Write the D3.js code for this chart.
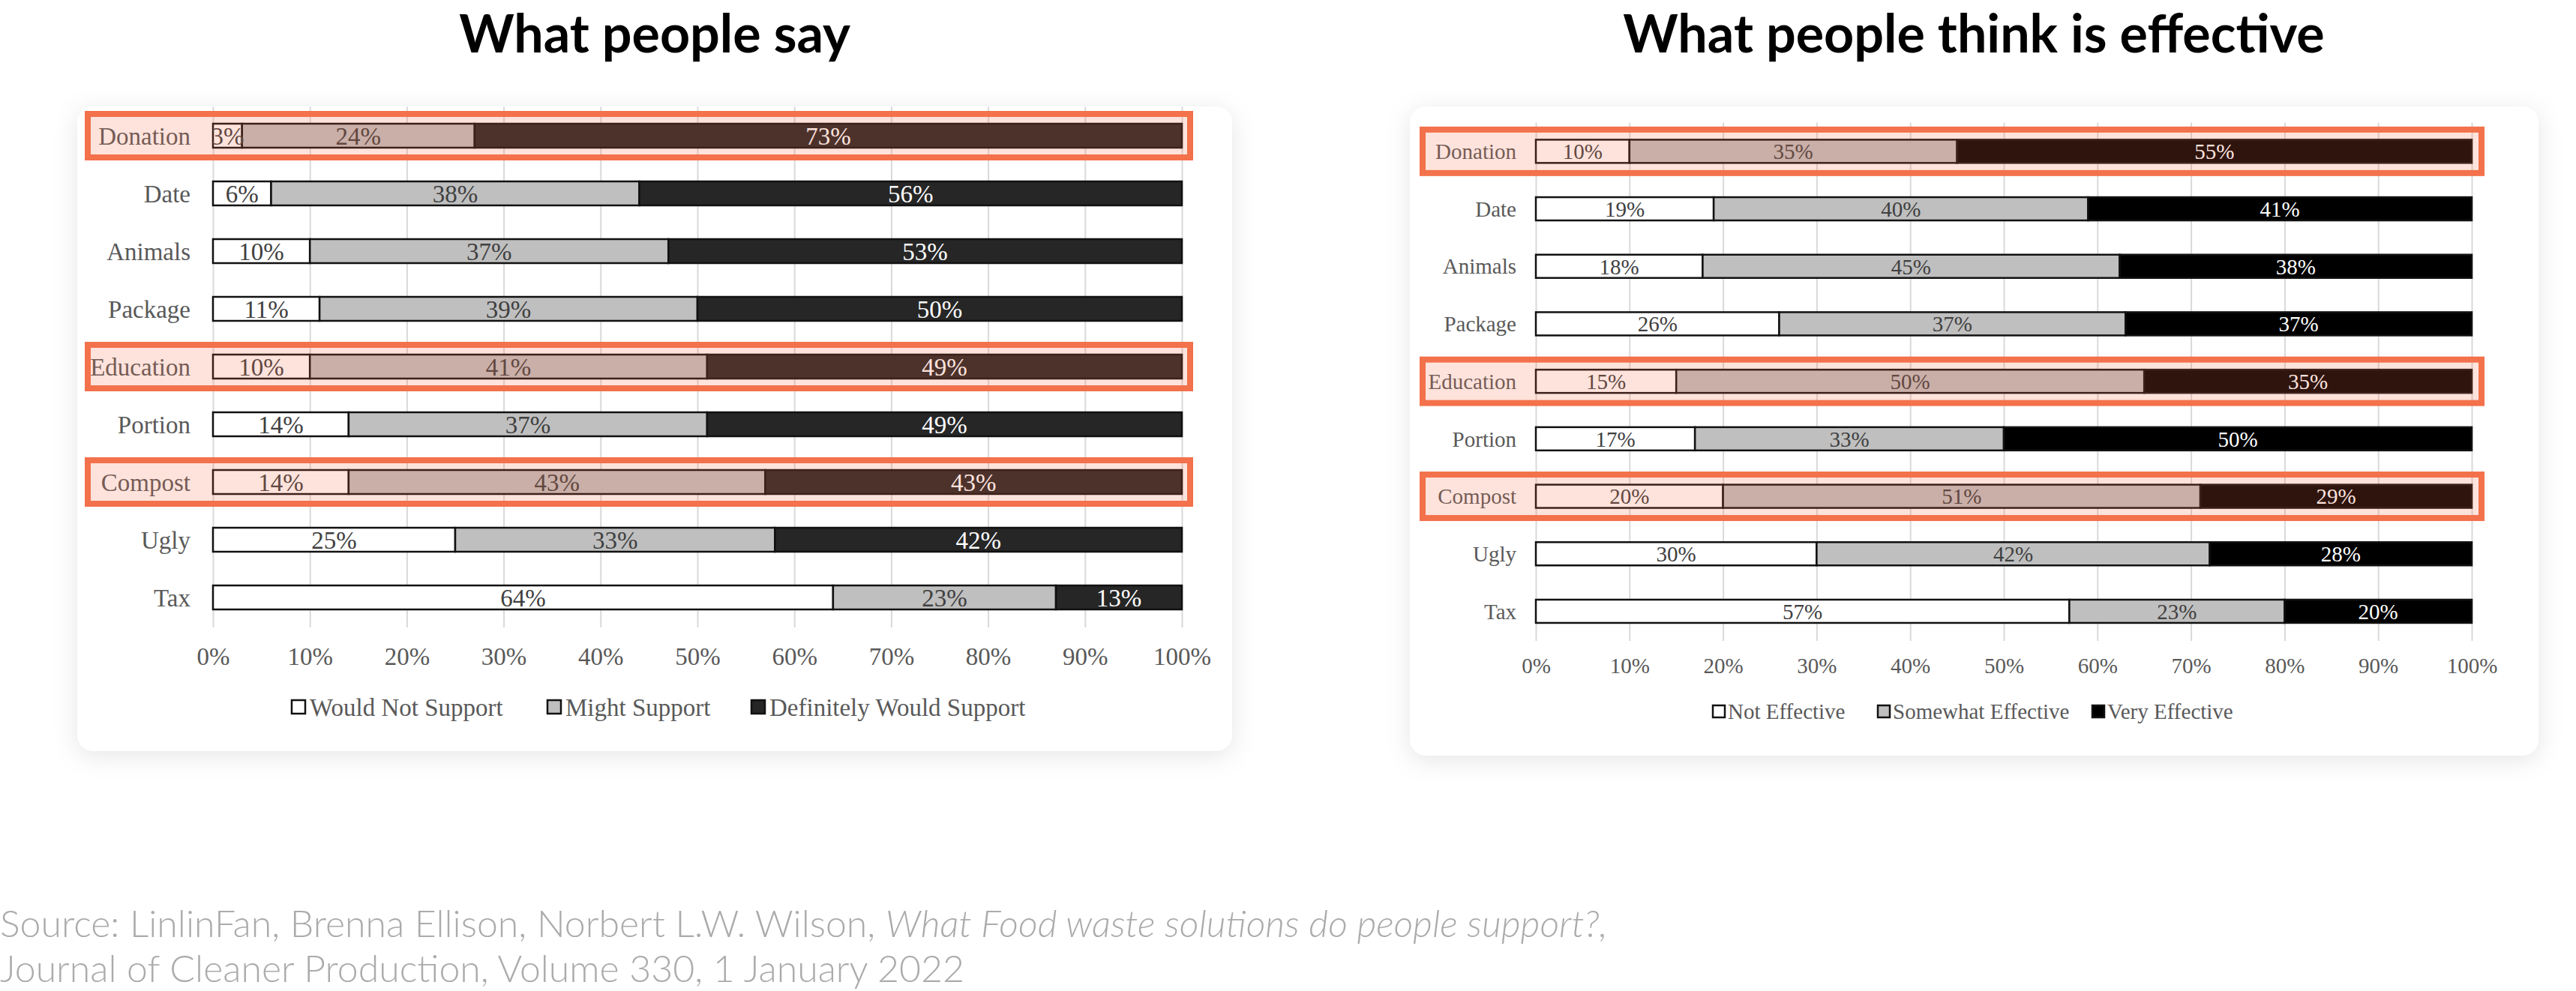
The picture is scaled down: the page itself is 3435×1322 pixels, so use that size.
<!DOCTYPE html>
<html>
<head>
<meta charset="utf-8">
<script src="https://cdn.jsdelivr.net/npm/d3@7"></script>
<style>
  html, body { margin: 0; padding: 0; background: #ffffff; }
  svg { display: block; }
</style>
</head>
<body>
<svg id="chart" width="3435" height="1322"></svg>
<script>
// ---------------- DATA ----------------
const categories = ["Donation", "Date", "Animals", "Package", "Education", "Portion", "Compost", "Ugly", "Tax"];
const highlighted = ["Donation", "Education", "Compost"];

const sayNotSupport        = [3, 6, 10, 11, 10, 14, 14, 25, 64];
const sayMightSupport      = [24, 38, 37, 39, 41, 37, 43, 33, 23];
const sayDefinitelySupport = [73, 56, 53, 50, 49, 49, 43, 42, 13];

const effNotEffective      = [10, 19, 18, 26, 15, 17, 20, 30, 57];
const effSomewhatEffective = [35, 40, 45, 37, 50, 33, 51, 42, 23];
const effVeryEffective     = [55, 41, 38, 37, 35, 50, 29, 28, 20];

const sayLegend = ["Would Not Support", "Might Support", "Definitely Would Support"];
const effLegend = ["Not Effective", "Somewhat Effective", "Very Effective"];

const xTickValues = [0, 10, 20, 30, 40, 50, 60, 70, 80, 90, 100];

const titles = ["What people say", "What people think is effective"];
const sourcePlain = "Source: LinlinFan, Brenna Ellison, Norbert L.W. Wilson, ";
const sourceItalic = "What Food waste solutions do people support?,";
const sourceLine2 = "Journal of Cleaner Production, Volume 330, 1 January 2022";

// ---------------- LAYOUT ----------------
const svg = d3.select("#chart");
const defs = svg.append("defs");
const shadow = defs.append("filter").attr("id", "cardShadow")
  .attr("x", "-10%").attr("y", "-15%").attr("width", "120%").attr("height", "130%");
shadow.append("feDropShadow")
  .attr("dx", 0).attr("dy", 6).attr("stdDeviation", 16)
  .attr("flood-color", "#000").attr("flood-opacity", 0.10);

const panels = [
  {
    title: titles[0], titleX: 873,
    card: { x: 103, y: 142, w: 1540, h: 860 },
    x0: 284, x1: 1576, yTop: 142.5, yBottom: 835.5, barH: 32,
    gridBottom: 837,
    series: [sayNotSupport, sayMightSupport, sayDefinitelySupport],
    colors: ["#ffffff", "#bfbfbf", "#262626"],
    labelColors: ["#404040", "#404040", "#ffffff"],
    font: 33, catPad: 30, tickY: 875,
    legend: sayLegend, legendX: [389, 730, 1002], legendY: 943, legendBox: 18, legendGap: 6,
    hlX0: 113, hlX1: 1591, hlH: 66,
    clipId: "clipSay"
  },
  {
    title: titles[1], titleX: 2632,
    card: { x: 1880, y: 142, w: 1505, h: 866 },
    x0: 2048, x1: 3296, yTop: 163.5, yBottom: 853.8, barH: 31,
    gridBottom: 855,
    series: [effNotEffective, effSomewhatEffective, effVeryEffective],
    colors: ["#ffffff", "#bfbfbf", "#000000"],
    labelColors: ["#404040", "#404040", "#ffffff"],
    font: 29, catPad: 26, tickY: 888,
    legend: effLegend, legendX: [2284, 2504, 2790], legendY: 949, legendBox: 16, legendGap: 4,
    hlX0: 1893, hlX1: 3313, hlH: 66,
    clipId: "clipEff"
  }
];

panels.forEach(p => {
  // card
  svg.append("rect")
    .attr("x", p.card.x).attr("y", p.card.y)
    .attr("width", p.card.w).attr("height", p.card.h)
    .attr("rx", 22).attr("ry", 22)
    .attr("fill", "#ffffff")
    .attr("filter", "url(#cardShadow)");

  // title
  svg.append("text")
    .attr("x", p.titleX).attr("y", 70)
    .attr("text-anchor", "middle")
    .attr("font-family", "Lato, 'Open Sans', sans-serif")
    .attr("font-weight", 700)
    .attr("font-size", 70)
    .attr("fill", "#000")
    .text(p.title);

  const x = d3.scaleLinear().domain([0, 100]).range([p.x0, p.x1]);
  const step = (p.yBottom - p.yTop) / categories.length;
  const pad = 1 - p.barH / step;
  const y = d3.scaleBand().domain(categories).range([p.yTop, p.yBottom])
    .paddingInner(pad).paddingOuter(pad / 2);

  const g = svg.append("g");

  // gridlines + tick labels via axis
  const xAxis = d3.axisBottom(x)
    .tickValues(xTickValues)
    .tickFormat(d => d + "%")
    .tickSize(-(p.gridBottom - p.yTop))
    .tickPadding(0);
  const ax = g.append("g")
    .attr("transform", `translate(0,${p.gridBottom})`)
    .call(xAxis);
  ax.select(".domain").remove();
  ax.selectAll(".tick line").attr("stroke", "#d9d9d9").attr("stroke-width", 2);
  ax.selectAll(".tick text")
    .attr("y", p.tickY - p.gridBottom)
    .attr("dy", "0.35em")
    .attr("font-family", "'Liberation Serif', 'Times New Roman', serif")
    .attr("font-size", p.font)
    .attr("fill", "#595959");

  // category labels via axis
  const yAxis = d3.axisLeft(y).tickSize(0).tickPadding(0);
  const ay = g.append("g")
    .attr("transform", `translate(${p.x0 - p.catPad},0)`)
    .call(yAxis);
  ay.select(".domain").remove();
  ay.selectAll(".tick text")
    .attr("x", 0)
    .attr("dy", "0.35em")
    .attr("font-family", "'Liberation Serif', 'Times New Roman', serif")
    .attr("font-size", p.font)
    .attr("fill", "#595959");

  // stacked data (100% stacked)
  const rows = categories.map((c, i) => {
    const o = { cat: c };
    p.series.forEach((s, k) => { o["s" + k] = s[i]; });
    return o;
  });
  const keys = p.series.map((s, k) => "s" + k);
  const stacked = d3.stack().keys(keys).offset(d3.stackOffsetExpand)(rows);

  const bars = g.append("g");
  stacked.forEach((layer, k) => {
    bars.selectAll(null)
      .data(layer)
      .join("rect")
      .attr("x", d => x(d[0] * 100))
      .attr("y", d => y(d.data.cat))
      .attr("width", d => x(d[1] * 100) - x(d[0] * 100))
      .attr("height", y.bandwidth())
      .attr("fill", p.colors[k])
      .attr("stroke", "#111")
      .attr("stroke-width", 2.5);
  });

  // value labels
  defs.append("clipPath").attr("id", p.clipId)
    .append("rect").attr("x", p.x0).attr("y", 0).attr("width", p.x1 - p.x0).attr("height", 1322);
  const labels = g.append("g").attr("clip-path", `url(#${p.clipId})`);
  stacked.forEach((layer, k) => {
    labels.selectAll(null)
      .data(layer)
      .join("text")
      .attr("x", d => x((d[0] + d[1]) / 2 * 100))
      .attr("y", d => y(d.data.cat) + y.bandwidth() / 2)
      .attr("dy", "0.36em")
      .attr("text-anchor", "middle")
      .attr("font-family", "'Liberation Serif', 'Times New Roman', serif")
      .attr("font-size", p.font)
      .attr("fill", p.labelColors[k])
      .text(d => d.data[layer.key] + "%");
  });

  // legend
  const lg = g.append("g");
  p.legend.forEach((name, k) => {
    lg.append("rect")
      .attr("x", p.legendX[k]).attr("y", p.legendY - p.legendBox / 2)
      .attr("width", p.legendBox).attr("height", p.legendBox)
      .attr("fill", p.colors[k]).attr("stroke", "#111").attr("stroke-width", 2.5);
    lg.append("text")
      .attr("x", p.legendX[k] + p.legendBox + p.legendGap)
      .attr("y", p.legendY)
      .attr("dy", "0.35em")
      .attr("font-family", "'Liberation Serif', 'Times New Roman', serif")
      .attr("font-size", p.font)
      .attr("fill", "#595959")
      .text(name);
  });

  // highlight boxes
  const sw = 8;
  g.append("g").selectAll("rect")
    .data(highlighted)
    .join("rect")
    .attr("x", p.hlX0 + sw / 2)
    .attr("y", d => y(d) + y.bandwidth() / 2 - p.hlH / 2 + sw / 2)
    .attr("width", p.hlX1 - p.hlX0 - sw)
    .attr("height", p.hlH - sw)
    .attr("fill", "rgba(245,106,69,0.19)")
    .attr("stroke", "#f3714b")
    .attr("stroke-width", sw);
});

// source
const src = svg.append("text")
  .attr("x", 0).attr("y", 1250)
  .attr("font-family", "Lato, 'Open Sans', sans-serif")
  .attr("font-weight", 300)
  .attr("font-size", 50)
  .attr("fill", "#ababab");
src.append("tspan").text(sourcePlain);
src.append("tspan").attr("font-style", "italic").text(sourceItalic);
svg.append("text")
  .attr("x", 0).attr("y", 1310)
  .attr("font-family", "Lato, 'Open Sans', sans-serif")
  .attr("font-weight", 300)
  .attr("font-size", 50)
  .attr("fill", "#ababab")
  .text(sourceLine2);
</script>
</body>
</html>
